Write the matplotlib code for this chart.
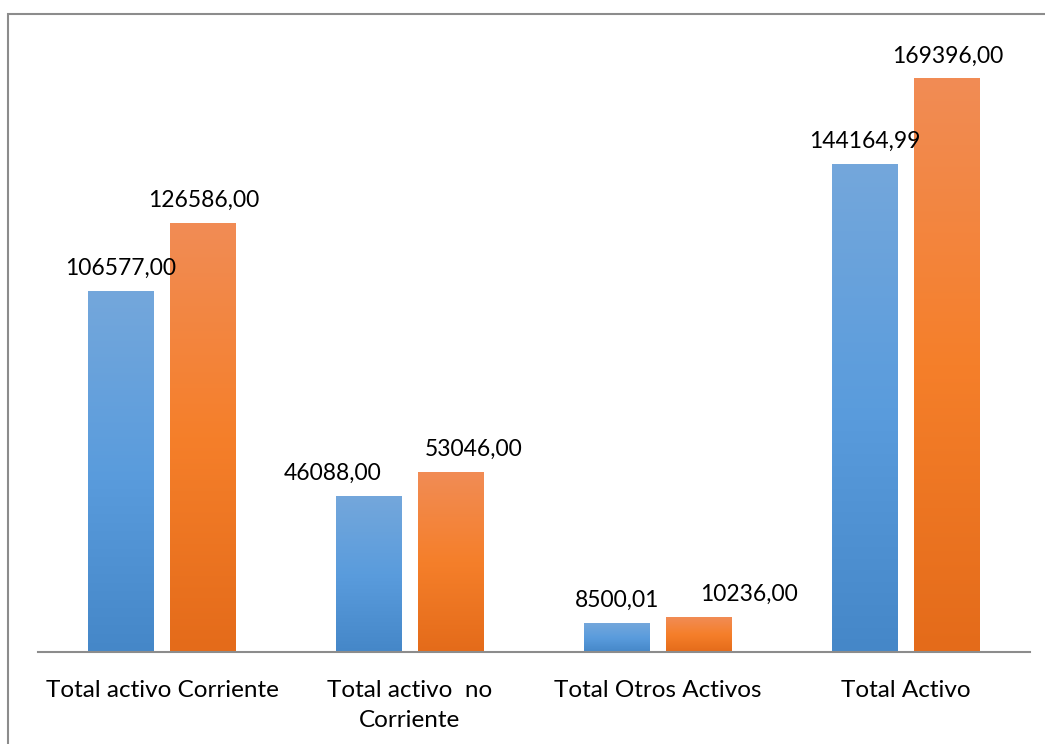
import numpy as np
import matplotlib.pyplot as plt
from matplotlib.colors import LinearSegmentedColormap
from matplotlib.patches import Rectangle

plt.rcParams['font.family'] = ['Lato', 'DejaVu Sans']

categories = ["Total activo Corriente", "Total activo  no\nCorriente",
              "Total Otros Activos", "Total Activo"]
serie_1 = [106577.00, 46088.00, 8500.01, 144164.99]
serie_2 = [126586.00, 53046.00, 10236.00, 169396.00]
labels_1 = ["106577,00", "46088,00", "8500,01", "144164,99"]
labels_2 = ["126586,00", "53046,00", "10236,00", "169396,00"]

# horizontal nudges (px) so neighbouring labels don't collide
nudge_1 = [0, -36, 0, 0]
nudge_2 = [0, 22, 50, 0]

blue_cmap = LinearSegmentedColormap.from_list("azul", ["#4587C8", "#5A9CDD", "#74A7DB"])
orange_cmap = LinearSegmentedColormap.from_list("naranja", ["#E46B1A", "#F57F2A", "#F18C55"])

W, H = 1045, 744
fig = plt.figure(figsize=(W / 100, H / 100), dpi=100)
ax = fig.add_axes([38 / W, (H - 652) / H, 992 / W, 609 / H])

x = np.arange(len(categories))
width = 0.266
offset = 0.167
grad = np.linspace(0, 1, 256).reshape(-1, 1)


def gradient_bars(xs, values, cmap):
    bars = ax.bar(xs, values, width, color="none")
    for b in bars:
        x0, h = b.get_x(), b.get_height()
        ax.imshow(grad, cmap=cmap, origin="lower", aspect="auto",
                  extent=[x0, x0 + b.get_width(), 0, h], zorder=2)
    return bars


gradient_bars(x - offset, serie_1, blue_cmap)
gradient_bars(x + offset, serie_2, orange_cmap)

for xs, vals, texts, nudges in [(x - offset, serie_1, labels_1, nudge_1),
                                (x + offset, serie_2, labels_2, nudge_2)]:
    for xi, v, t, dx in zip(xs, vals, texts, nudges):
        ax.annotate(t, (xi, v), xytext=(dx * 0.72, 9), textcoords="offset points",
                    ha="center", va="bottom", fontsize=16.5, color="#000000")

ax.set_xlim(-0.5, 3.5)
ax.set_ylim(0, 180000)
ax.set_xticks(x)
ax.set_xticklabels(categories, fontsize=17.5, linespacing=1.55)
ax.tick_params(axis="x", length=0, pad=20)
ax.set_yticks([])
for s in ["top", "left", "right"]:
    ax.spines[s].set_visible(False)
ax.spines["bottom"].set_color("#8c8c8c")
ax.spines["bottom"].set_linewidth(1.5)

# outer frame
fig.patches.append(Rectangle((8 / W, -0.1), 1.2, 1.1 - 14 / H, transform=fig.transFigure,
                             fill=False, edgecolor="#8c8c8c", linewidth=1.5))

fig.savefig("out.png", dpi=100)
